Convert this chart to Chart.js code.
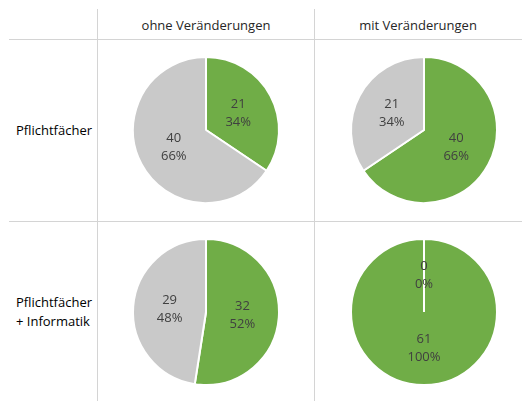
<!DOCTYPE html>
<html>
<head>
<meta charset="utf-8">
<script src="https://cdn.jsdelivr.net/npm/chart.js@4.4.1/dist/chart.umd.min.js"></script>
<style>
  html, body { margin: 0; padding: 0; background: #fff; }
  #wrap { position: relative; width: 522px; height: 401px; overflow: hidden; font-family: "Open Sans", sans-serif; }
  .vline { position: absolute; width: 1px; background: #d4d4d4; }
  .hline { position: absolute; height: 1px; background: #d4d4d4; }
  .head { position: absolute; font-size: 13px; color: #262626; text-align: center; width: 200px; line-height: 18px; }
  .row { position: absolute; font-size: 13px; color: #000; left: 16px; line-height: 19px; }
  canvas.pie { position: absolute; }
</style>
</head>
<body>
<div id="wrap">
  <div class="vline" style="left:97px; top:9px; height:392px;"></div>
  <div class="vline" style="left:314px; top:9px; height:392px;"></div>
  <div class="hline" style="left:9px; top:39px; width:513px;"></div>
  <div class="hline" style="left:9px; top:221px; width:513px;"></div>
  <div class="head" id="h0" style="left:106px; top:16px;"></div>
  <div class="head" id="h1" style="left:318px; top:16px;"></div>
  <div class="row" id="r0" style="top:121px;"></div>
  <div class="row" id="r1" style="top:293px;"></div>
  <canvas class="pie" id="p0" width="160" height="160" style="left:126px; top:50px;"></canvas>
  <canvas class="pie" id="p1" width="160" height="160" style="left:344px; top:50px;"></canvas>
  <canvas class="pie" id="p2" width="160" height="160" style="left:126px; top:232px;"></canvas>
  <canvas class="pie" id="p3" width="160" height="160" style="left:344px; top:232px;"></canvas>
</div>
<script>
// Column headers and row categories
const columns = ['ohne Veränderungen', 'mit Veränderungen'];
const categories = ['Pflichtfächer', 'Pflichtfächer<br>+ Informatik'];
// Pie order: [Pflichtfächer ohne, Pflichtfächer mit, +Informatik ohne, +Informatik mit]
const greenValues = [21, 40, 32, 61];
const grayValues  = [40, 21, 29, 0];

const GREEN = '#70AD47';
const GRAY = '#C9C9C9';

document.getElementById('h0').textContent = columns[0];
document.getElementById('h1').textContent = columns[1];
document.getElementById('r0').innerHTML = categories[0];
document.getElementById('r1').innerHTML = categories[1];

const labelPlugin = {
  id: 'pieLabels',
  afterDatasetsDraw(chart) {
    const ctx = chart.ctx;
    const ds = chart.data.datasets[0];
    const total = ds.data.reduce((a, b) => a + b, 0);
    const meta = chart.getDatasetMeta(0);
    ctx.save();
    ctx.font = '13px "Open Sans", sans-serif';
    ctx.fillStyle = '#404040';
    ctx.textAlign = 'center';
    ctx.textBaseline = 'middle';
    meta.data.forEach((arc, i) => {
      const p = arc.tooltipPosition();
      const v = ds.data[i];
      const pct = Math.round(v / total * 100) + '%';
      ctx.fillText(String(v), p.x, p.y - 9);
      ctx.fillText(pct, p.x, p.y + 9);
    });
    ctx.restore();
  }
};

for (let k = 0; k < 4; k++) {
  new Chart(document.getElementById('p' + k), {
    type: 'pie',
    data: {
      labels: ['grün', 'grau'],
      datasets: [{
        data: [greenValues[k], grayValues[k]],
        backgroundColor: [GREEN, GRAY],
        borderColor: '#ffffff',
        borderWidth: 2
      }]
    },
    options: {
      responsive: false,
      animation: false,
      radius: 73,
      layout: { padding: 0 },
      plugins: { legend: { display: false }, tooltip: { enabled: false } }
    },
    plugins: [labelPlugin]
  });
}
</script>
</body>
</html>
